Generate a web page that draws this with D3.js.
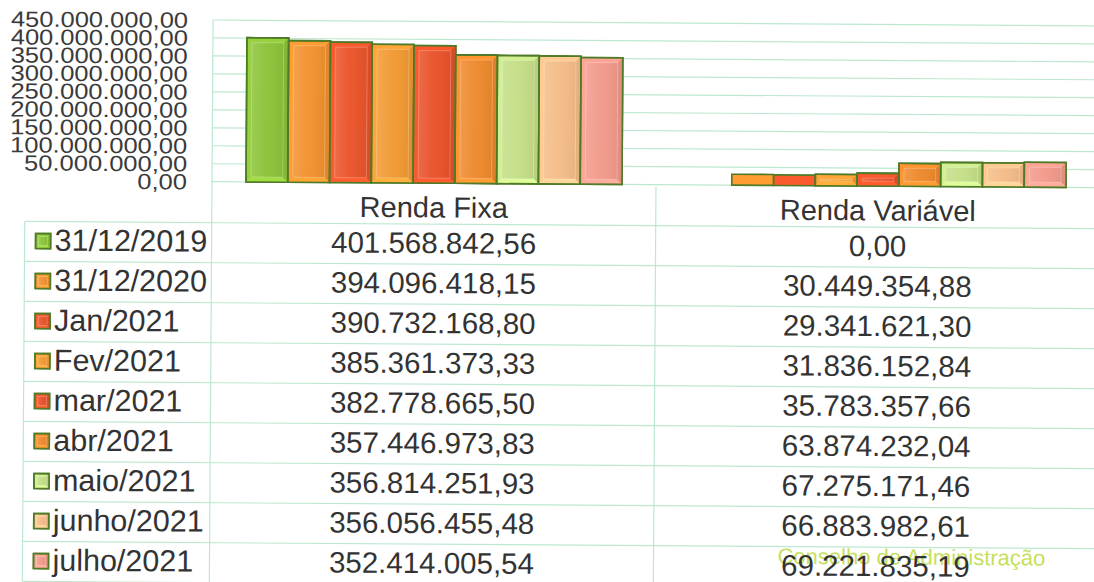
<!DOCTYPE html>
<html>
<head>
<meta charset="utf-8">
<script src="https://cdn.jsdelivr.net/npm/d3@7"></script>
<style>
  html, body { margin: 0; padding: 0; background: #ffffff; }
  svg { display: block; }
  text { font-family: "Liberation Sans", Arial, sans-serif; fill: #333333; }
</style>
</head>
<body>
<svg id="chart" width="1094" height="582"></svg>
<script>
// Carteira por segmento, valores em R$
const categories = ["Renda Fixa", "Renda Variável"];
const periods = ["31/12/2019", "31/12/2020", "Jan/2021", "Fev/2021", "mar/2021",
                 "abr/2021", "maio/2021", "junho/2021", "julho/2021"];
const rendaFixa = [401568842.56, 394096418.15, 390732168.80, 385361373.33, 382778665.50,
                   357446973.83, 356814251.93, 356056455.48, 352414005.54];
const rendaVariavel = [0.00, 30449354.88, 29341621.30, 31836152.84, 35783357.66,
                       63874232.04, 67275171.46, 66883982.61, 69221835.19];
const yTicks = [0, 50e6, 100e6, 150e6, 200e6, 250e6, 300e6, 350e6, 400e6, 450e6];
const periodColors = ["#8cc33a", "#f2922f", "#ea542a", "#f29a33", "#e9522a",
                      "#ee8a2d", "#c4df87", "#f5bd88", "#f29a8b"];

const seriesByCategory = [rendaFixa, rendaVariavel];

const br = d3.formatLocale({ decimal: ",", thousands: ".", grouping: [3], currency: ["R$ ", ""] });
const fmt = br.format(",.2f");

const svg = d3.select("#chart");
const root = svg.append("g").attr("transform", "rotate(0.38, 212, 182)");

// plot area
const plot = { left: 212, right: 1100, top: 20, bottom: 181.7 };
const table = { left: 25, top: 222.7, rowH: 40 };
const gridColor = "#bde8cf";
const outline = "#4f7a27";

const x = d3.scaleBand().domain(categories).range([plot.left, plot.right]).padding(0);
const xs = d3.scaleBand().domain(periods).range([34, x.bandwidth() - 34]).padding(0);
const y = d3.scaleLinear().domain([0, 450e6]).range([plot.bottom, plot.top]);

// gridlines
root.append("g").selectAll("line").data(yTicks).join("line")
  .attr("x1", plot.left).attr("x2", plot.right)
  .attr("y1", d => y(d)).attr("y2", d => y(d))
  .attr("stroke", gridColor).attr("stroke-width", 1.2);

// y axis labels (compressed vertically, as in the sheet)
const yAxis = root.append("g");
yAxis.selectAll("g").data(yTicks).join("g")
  .attr("transform", d => `translate(187, ${y(d)}) scale(1, 0.86)`)
  .append("text")
  .attr("text-anchor", "end").attr("dy", "0.36em")
  .style("font-size", "25.5px").style("fill", "#3a3a3a")
  .text(d => fmt(d));

// bevel shading
const defs = svg.append("defs");
const sh = defs.append("linearGradient").attr("id", "shadeH").attr("x1", 0).attr("x2", 1).attr("y1", 0).attr("y2", 0);
sh.append("stop").attr("offset", "0%").attr("stop-color", "#ffffff").attr("stop-opacity", 0.14);
sh.append("stop").attr("offset", "45%").attr("stop-color", "#ffffff").attr("stop-opacity", 0.03);
sh.append("stop").attr("offset", "100%").attr("stop-color", "#000000").attr("stop-opacity", 0.05);

function bevelBox(g, x0, y0, w, h, color, inset) {
  g.append("rect").attr("x", x0).attr("y", y0).attr("width", w).attr("height", Math.max(h, 0))
    .attr("fill", d3.color(color).brighter(0.2)).attr("stroke", outline).attr("stroke-width", 1.6);
  if (h > inset * 2 + 1 && w > inset * 2 + 1) {
    const ix = x0 + inset, iy = y0 + inset, iw = w - inset * 2, ih = h - inset * 2;
    // side faces of the bevel
    g.append("polygon")
      .attr("points", [[x0 + w, y0], [x0 + w, y0 + h], [ix + iw, iy + ih], [ix + iw, iy]].join(" "))
      .attr("fill", d3.color(color).darker(0.2));
    g.append("polygon")
      .attr("points", [[x0, y0 + h], [x0 + w, y0 + h], [ix + iw, iy + ih], [ix, iy + ih]].join(" "))
      .attr("fill", d3.color(color).brighter(0.35));
    g.append("rect").attr("x", ix).attr("y", iy).attr("width", iw).attr("height", ih)
      .attr("fill", color);
    g.append("rect").attr("x", ix).attr("y", iy).attr("width", iw).attr("height", ih)
      .attr("fill", "url(#shadeH)").attr("stroke", "rgba(255,255,255,0.3)").attr("stroke-width", 0.8);
    g.append("rect").attr("x", x0).attr("y", y0).attr("width", w).attr("height", h)
      .attr("fill", "none").attr("stroke", outline).attr("stroke-width", 1.6);
  }
}

// bars
const bars = root.append("g");
categories.forEach((cat, ci) => {
  const vals = seriesByCategory[ci];
  periods.forEach((p, pi) => {
    const x0 = x(cat) + xs(p);
    const y0 = y(vals[pi]);
    bevelBox(bars.append("g"), x0, y0, xs.bandwidth(), y(0) - y0, periodColors[pi], 5);
  });
});

// table grid
const nRows = periods.length;
const tbl = root.append("g").attr("stroke", gridColor).attr("stroke-width", 1.2);
// plot left border, continues down through the table
tbl.append("line").attr("x1", plot.left).attr("x2", plot.left).attr("y1", plot.top).attr("y2", table.top + nRows * table.rowH);
// column divider between categories
tbl.append("line").attr("x1", x(categories[1])).attr("x2", x(categories[1]))
  .attr("y1", plot.bottom + 2).attr("y2", table.top + nRows * table.rowH);
// left border of legend column
tbl.append("line").attr("x1", table.left).attr("x2", table.left)
  .attr("y1", table.top).attr("y2", table.top + nRows * table.rowH);
// row lines
tbl.selectAll("line.row").data(d3.range(nRows + 1)).join("line").attr("class", "row")
  .attr("x1", table.left).attr("x2", plot.right)
  .attr("y1", i => table.top + i * table.rowH).attr("y2", i => table.top + i * table.rowH);

// category headers
root.append("g").selectAll("text").data(categories).join("text")
  .attr("x", d => x(d) + x.bandwidth() / 2).attr("y", 216)
  .attr("text-anchor", "middle").style("font-size", "29px")
  .text(d => d);

// watermark
root.append("text").attr("x", 780).attr("y", 560)
  .style("font-size", "22px").style("fill", "#c6e05e")
  .text("Conselho de Administração");

// legend rows
const rows = root.append("g").selectAll("g").data(periods).join("g")
  .attr("transform", (d, i) => `translate(0, ${table.top + i * table.rowH})`);
rows.each(function (p, i) {
  bevelBox(d3.select(this).append("g"), 36, 12, 15, 15, periodColors[i], 3);
});
rows.append("text").attr("x", 55).attr("y", 29)
  .style("font-size", "30.5px").text(d => d);

// values
categories.forEach((cat, ci) => {
  rows.append("text")
    .attr("x", x(cat) + x.bandwidth() / 2).attr("y", 29)
    .attr("text-anchor", "middle").style("font-size", "29.5px")
    .text((d, i) => fmt(seriesByCategory[ci][i]));
});
</script>
</body>
</html>
